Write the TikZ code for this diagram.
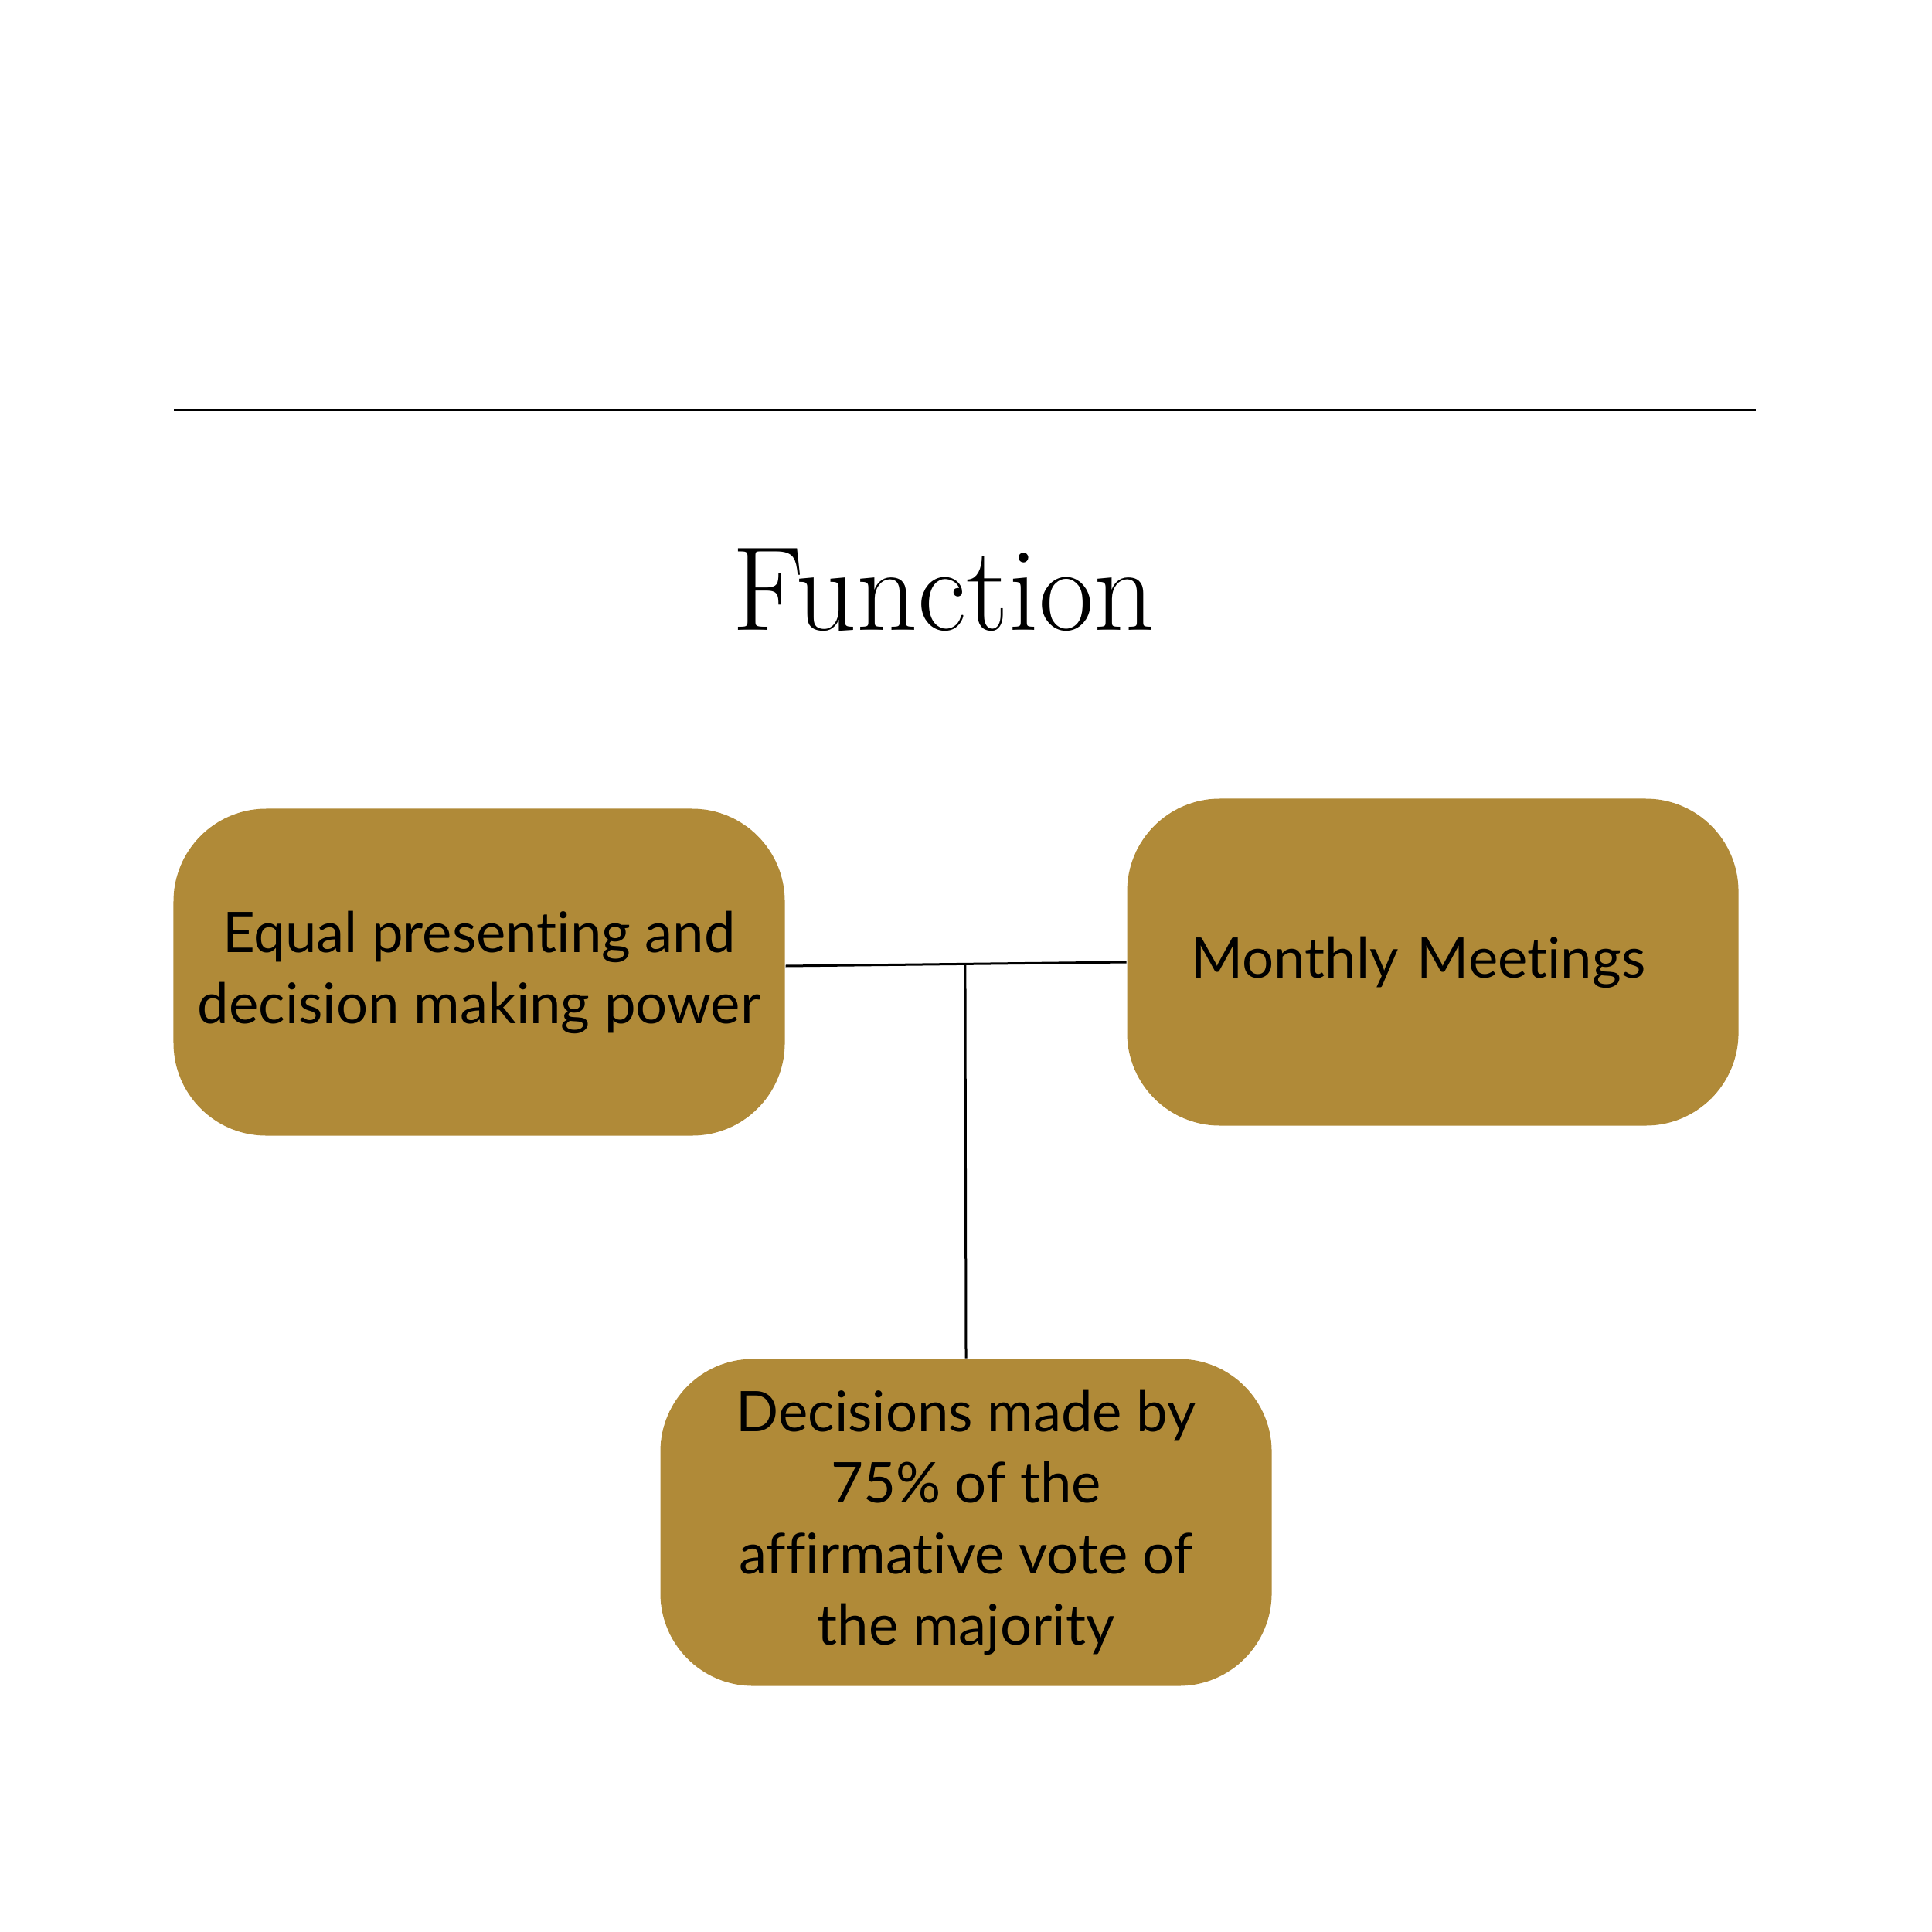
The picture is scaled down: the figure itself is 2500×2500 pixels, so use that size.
\documentclass[tikz,border=0pt]{standalone}
\usepackage{fontspec}
\usetikzlibrary{calc}
\newfontfamily\bodyfont[Ligatures=NoCommon]{Lato}
\newcommand\myboxfont{\bodyfont\fontsize{14.5}{18.4}\selectfont\hyphenpenalty=10000 \exhyphenpenalty=10000 }
\definecolor{gold}{RGB}{176,138,56}
\begin{document}
\begin{tikzpicture}[x=0.2pt,y=-0.2pt,
  box/.style={fill=gold, rounded corners=24pt, minimum width=158.2pt, minimum height=84.6pt,
    inner sep=0pt, font=\myboxfont, align=center},
  link/.style={draw=black, line width=0.6pt}]
\useasboundingbox (0,0) rectangle (2500,2500);
\coordinate (ll) at (225,531);
\coordinate (lr) at (2272,531);
\draw[link] (ll) -- (lr);
\node[anchor=base, inner sep=0pt, font=\fontsize{31}{36}\selectfont] (title) at (1221,816) {Function};
\node[box] (left) at (620,1258) {Equal presenting and\\decision making power};
\node[box, align=left, text width=125pt] (right) at (1854,1245) {Monthly Meetings};
\node[box] (bot) at (1250,1970) {Decisions made by\\75\% of the\\affirmative vote of\\the majority};
\draw[link] ($(left.east)+(0,-8)$) -- coordinate[pos=0.527] (j) (right.west);
\draw[link] (j) -- (bot.north);
\end{tikzpicture}
\end{document}
